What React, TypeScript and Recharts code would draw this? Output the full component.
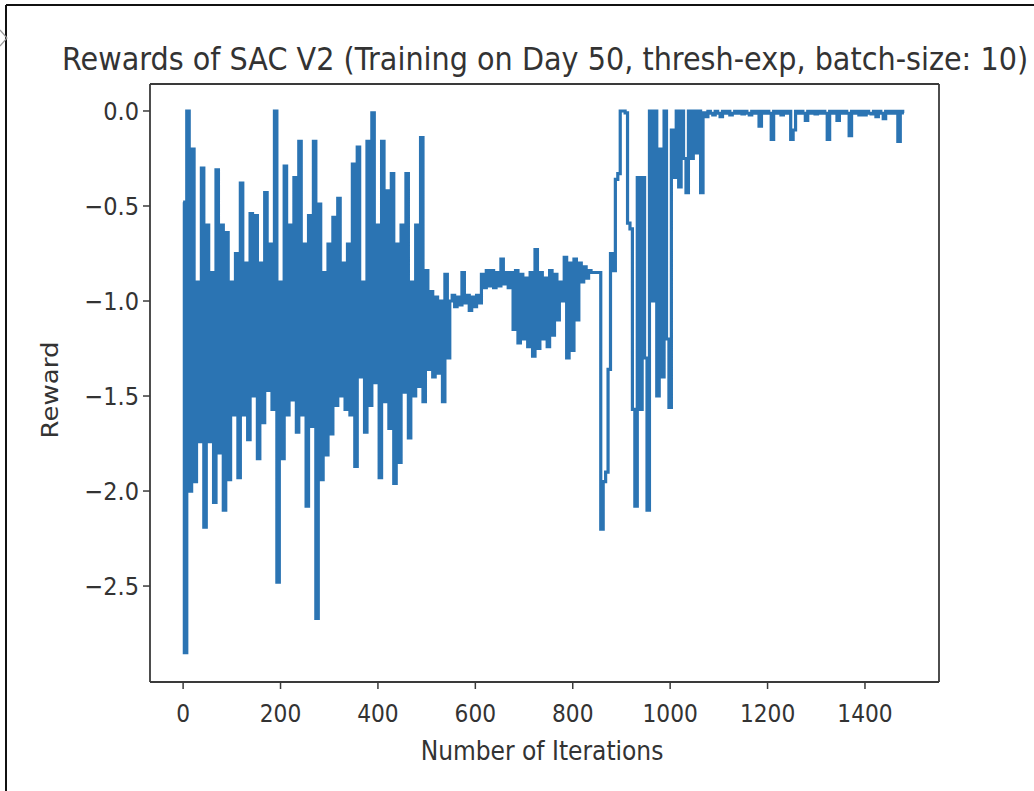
import React from "react";
import { LineChart, Line, XAxis, YAxis, ReferenceLine } from "recharts";

const STEP = 5;

// iterations 0..545 — noisy exploration phase
const earlyRewards = [
  -0.48, -2.85, 0.0, -2.0, -0.2, -1.95, -0.9, -1.74, -0.3, -2.19,
  -0.6, -1.74, -0.85, -2.06, -0.31, -1.8, -0.6, -2.1, -0.64, -1.94,
  -0.9, -1.6, -0.75, -1.93, -0.38, -1.6, -0.8, -1.73, -0.54, -1.5,
  -0.55, -1.83, -0.8, -1.64, -0.43, -1.47, -0.7, -1.57, 0.0, -2.48,
  -0.9, -1.83, -0.29, -1.6, -0.6, -1.52, -0.35, -1.69, -0.16, -1.6,
  -0.7, -2.08, -0.55, -1.66, -0.16, -2.67, -0.49, -1.94, -0.85, -1.81,
  -0.7, -1.7, -0.56, -1.55, -0.46, -1.5, -0.8, -1.57, -0.7, -1.6,
  -0.28, -1.87, -0.19, -1.4, -0.9, -1.69, -0.16, -1.55, -0.01, -1.43,
  -0.6, -1.93, -0.16, -1.53, -0.42, -1.67, -0.33, -1.96, -0.7, -1.85,
  -0.6, -1.48, -0.33, -1.72, -0.9, -1.5, -0.6, -1.45, -0.14, -1.53,
  -0.84, -1.36, -0.95, -1.4, -0.98, -1.38, -1.0, -1.53, -0.86, -1.3,
];

// iterations 550..855 — plateau around -1
const plateauRewards = [
  -1.0, -0.97, -1.03, -0.98, -1.02, -0.85, -1.01, -0.97, -1.05, -0.98,
  -1.03, -0.97, -1.01, -0.86, -0.93, -0.84, -0.92, -0.84, -0.93, -0.85,
  -0.92, -0.78, -0.91, -0.85, -0.93, -0.85, -1.15, -0.84, -1.22, -0.86,
  -1.2, -0.88, -1.24, -0.85, -1.29, -0.73, -1.25, -0.85, -1.2, -0.88,
  -1.24, -0.84, -1.18, -0.86, -1.1, -0.9, -1.0, -0.77, -1.3, -0.8,
  -1.26, -0.78, -1.1, -0.8, -0.9, -0.82, -0.88, -0.84, -0.85, -0.85,
  -0.85, -0.85,
];

// iterations 860..1065 — drop and recovery
const recoveryRewards = [
  -2.2, -1.95, -1.9, -1.36, -0.75, -0.84, -0.36, -0.33, 0.0, 0.0,
  -0.01, -0.59, -0.62, -1.57, -2.08, -0.35, -1.57, -0.35, -1.3, -2.1,
  0.0, -1.0, 0.0, -1.5, -0.2, -1.4, 0.0, -1.2, -1.56, -0.1,
  -0.35, 0.0, -0.4, 0.0, -0.25, -0.43, 0.0, -0.25, 0.0, -0.22,
  0.0, -0.43,
];

// iterations 1070..1480 — converged near zero
const convergedRewards = [
  -0.01, -0.03, -0.002, -0.012, -0.02, -0.002, -0.012, -0.03, -0.002, -0.012,
  -0.002, -0.02, -0.012, -0.002, -0.012, -0.002, -0.015, -0.002, -0.012, -0.02,
  -0.002, -0.012, -0.002, -0.08, -0.002, -0.012, -0.002, -0.012, -0.15, -0.002,
  -0.012, -0.002, -0.02, -0.002, -0.012, -0.002, -0.15, -0.1, -0.002, -0.012,
  -0.002, -0.012, -0.05, -0.002, -0.012, -0.002, -0.015, -0.002, -0.012, -0.002,
  -0.012, -0.15, -0.002, -0.012, -0.002, -0.05, -0.002, -0.012, -0.002, -0.012,
  -0.13, -0.002, -0.012, -0.002, -0.02, -0.002, -0.02, -0.002, -0.012, -0.015,
  -0.002, -0.03, -0.002, -0.012, -0.04, -0.002, -0.012, -0.002, -0.012, -0.002,
  -0.16, -0.002, -0.01,
];

const segments = [
  { start: 0, values: earlyRewards },
  { start: 550, values: plateauRewards },
  { start: 860, values: recoveryRewards },
  { start: 1070, values: convergedRewards },
];

const xTicks = [0, 200, 400, 600, 800, 1000, 1200, 1400];
const yTicks = [0, -0.5, -1, -1.5, -2, -2.5];

const X_DOMAIN = [-68, 1552];
const Y_DOMAIN = [-3.005, 0.142];

const LINE_COLOR = "#2b74b3";
const TEXT_COLOR = "#333";
const SPINE = "#3a3a3a";
const FONT = "'DejaVu Sans', Verdana, sans-serif";
const SQUEEZE = 0.87;

const data = segments.flatMap((s) =>
  s.values.map((r, i) => ({ iteration: s.start + i * STEP, reward: r }))
);

function fmtY(v: number) {
  if (v === 0) return "0.0";
  return "\u2212" + Math.abs(v).toFixed(1);
}

function XTick({ x, y, payload }: any) {
  return (
    <g transform={`translate(${x},${y})`}>
      <text
        transform={`scale(${SQUEEZE},1)`}
        textAnchor="middle"
        dy={31}
        fontSize={25}
        fill={TEXT_COLOR}
        fontFamily={FONT}
      >
        {payload.value}
      </text>
    </g>
  );
}

function YTick({ x, y, payload }: any) {
  return (
    <g transform={`translate(${x - 2},${y})`}>
      <text
        transform="scale(0.9,1)"
        textAnchor="end"
        dy={9}
        fontSize={25}
        fill={TEXT_COLOR}
        fontFamily={FONT}
      >
        {fmtY(payload.value)}
      </text>
    </g>
  );
}

export default function App() {
  return (
    <div
      style={{
        position: "absolute",
        left: 0,
        top: 0,
        width: 1034,
        height: 791,
        background: "#fff",
        overflow: "hidden",
      }}
    >
      <LineChart
        width={1034}
        height={791}
        data={data}
        margin={{ top: 84, right: 95, bottom: 49, left: 90 }}
      >
        <XAxis
          dataKey="iteration"
          type="number"
          domain={X_DOMAIN}
          ticks={xTicks}
          height={60}
          tickSize={7}
          tick={<XTick />}
          axisLine={{ stroke: SPINE, strokeWidth: 1.8 }}
          tickLine={{ stroke: SPINE, strokeWidth: 1.5 }}
          allowDataOverflow
        />
        <YAxis
          type="number"
          domain={Y_DOMAIN}
          ticks={yTicks}
          width={60}
          tickSize={7}
          tick={<YTick />}
          axisLine={{ stroke: SPINE, strokeWidth: 1.8 }}
          tickLine={{ stroke: SPINE, strokeWidth: 1.5 }}
          allowDataOverflow
        />
        {/* top and right spines */}
        <ReferenceLine y={Y_DOMAIN[1]} stroke={SPINE} strokeWidth={1.8} />
        <ReferenceLine x={X_DOMAIN[1]} stroke={SPINE} strokeWidth={1.8} />
        <Line
          type="step"
          dataKey="reward"
          stroke={LINE_COLOR}
          strokeWidth={3.2}
          dot={false}
          isAnimationActive={false}
        />
      </LineChart>

      <svg
        width={1034}
        height={791}
        style={{ position: "absolute", left: 0, top: 0, pointerEvents: "none" }}
      >
        {/* outer frame of the screenshot */}
        <line x1={6} y1={5} x2={1034} y2={5} stroke="#111" strokeWidth={2} />
        <line x1={6} y1={5} x2={6} y2={791} stroke="#111" strokeWidth={2} />
        <polyline points="0,30 7,38 0,46" fill="none" stroke="#999" strokeWidth={1.2} />

        <g transform="translate(545,70) scale(0.897,1)">
          <text textAnchor="middle" fontSize={32} fill={TEXT_COLOR} fontFamily={FONT}>
            Rewards of SAC V2 (Training on Day 50, thresh-exp, batch-size: 10)
          </text>
        </g>
        <g transform="translate(542,760) scale(0.9,1)">
          <text textAnchor="middle" fontSize={26} fill={TEXT_COLOR} fontFamily={FONT}>
            Number of Iterations
          </text>
        </g>
        <g transform={`translate(58,390) scale(${SQUEEZE},1) rotate(-90)`}>
          <text textAnchor="middle" fontSize={26} fill={TEXT_COLOR} fontFamily={FONT}>
            Reward
          </text>
        </g>
      </svg>
    </div>
  );
}
